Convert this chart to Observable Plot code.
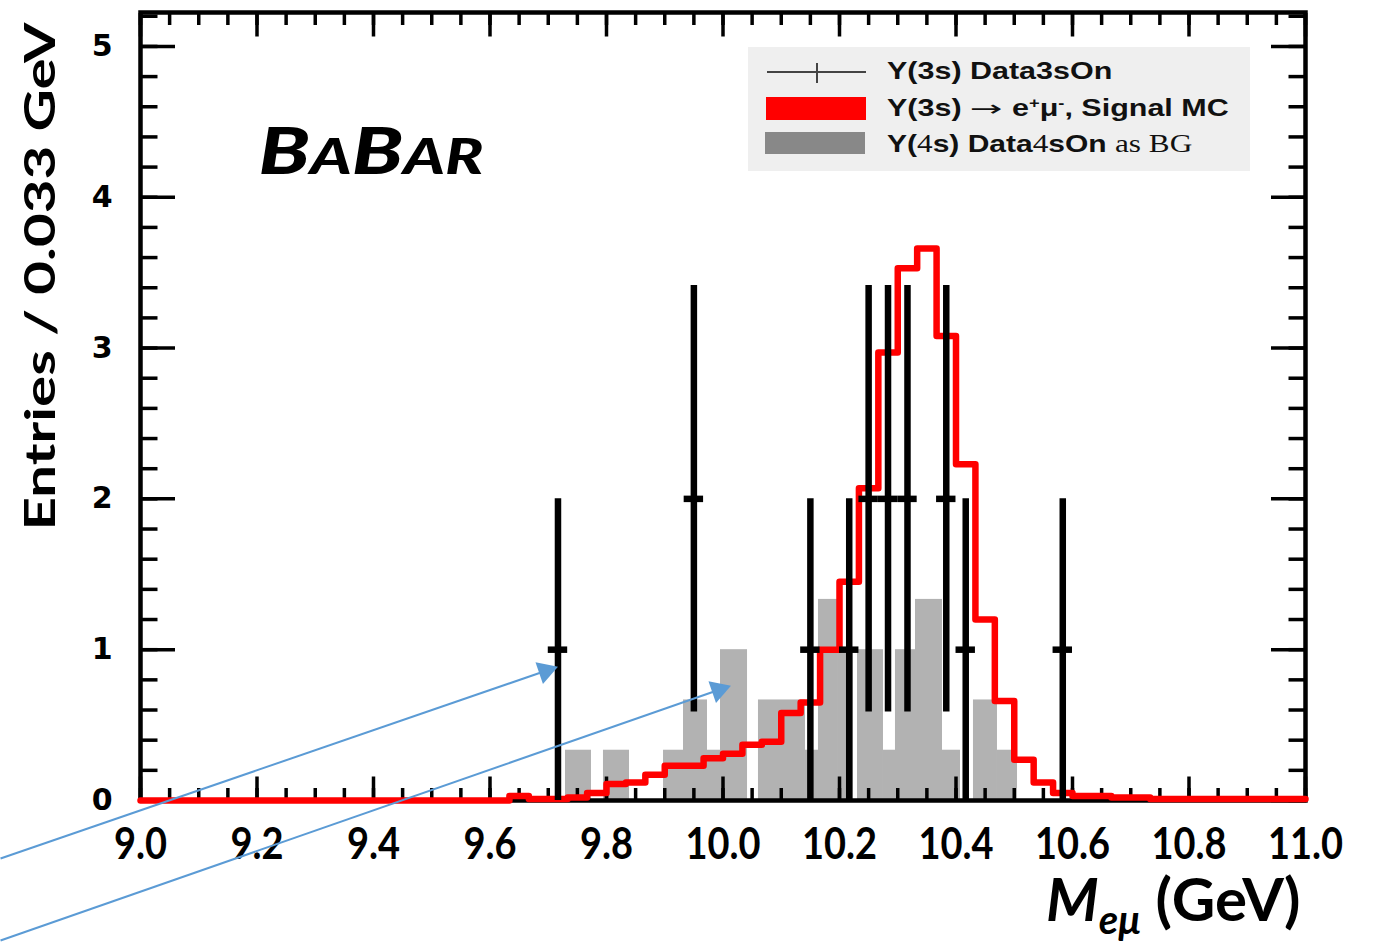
<!DOCTYPE html>
<html>
<head>
<meta charset="utf-8">
<script src="https://cdn.jsdelivr.net/npm/d3@7"></script>
<script src="https://cdn.jsdelivr.net/npm/@observablehq/plot@0.6"></script>
<style>
  html, body { margin: 0; padding: 0; background: #fff; }
  #wrap { position: relative; width: 1381px; height: 945px; overflow: hidden; background: #fff; }
  #wrap svg { position: absolute; left: 0; top: 0; }
  #legend { position: absolute; left: 748px; top: 47px; width: 502px; height: 124px; background: #efefef; }
  #legend .sym { position: absolute; }
  #legend .txt { position: absolute; left: 139px; white-space: nowrap; font-family: "Liberation Sans", Arial, sans-serif;
                 font-weight: bold; font-size: 24px; line-height: 24px; color: #111; transform-origin: 0 50%;
                 transform: translateY(-50%) scaleX(1.27); }
  #legend .serif { font-family: "Liberation Serif", "Times New Roman", serif; font-weight: normal; font-size: 25px; }
  #legend .arrow { font-family: "DejaVu Sans", sans-serif; font-weight: normal; font-size: 22px; display: inline-block; transform: scaleX(1.4); margin: 0 4px; }
  #legend sup { font-size: 60%; vertical-align: 0.55em; line-height: 0; }
</style>
</head>
<body>
<div id="wrap">
  <div id="legend">
    <div class="sym" style="left:19px; top:24px; width:99px; height:1.6px; background:#444;"></div>
    <div class="sym" style="left:68px; top:16px; width:2px; height:20px; background:#444;"></div>
    <div class="sym" style="left:18px; top:50px; width:100px; height:23px; background:#ff0000;"></div>
    <div class="sym" style="left:17px; top:85px; width:100px; height:22px; background:#888888;"></div>
    <div class="txt" style="top:24px;">Y(3s) Data3sOn</div>
    <div class="txt" style="top:61px;">Y(3s) <span class="arrow">&#8594;</span> e<sup>+</sup>&#956;<sup>-</sup>, Signal MC</div>
    <div class="txt" style="top:97px; transform: translateY(-50%) scaleX(1.25);">Y(<span class="serif">4</span>s) Data<span class="serif">4</span>sOn <span class="serif">as BG</span></div>
  </div>
</div>
<script>
// ---------------- data ----------------
// Signal MC histogram: 60 bins of 1/30 GeV from 9.0 to 11.0 (values per bin)
const histStart = 9.0;
const histBinWidth = 1 / 30;
const signalMC = [
  0, 0, 0, 0, 0, 0, 0, 0, 0, 0,
  0, 0, 0, 0, 0, 0, 0, 0, 0, 0.03,
  0.01, 0.01, 0.02, 0.05, 0.11, 0.12, 0.17, 0.23, 0.23, 0.28,
  0.31, 0.37, 0.39, 0.58, 0.65, 1.0, 1.45, 2.07, 2.97, 3.53,
  3.66, 3.08, 2.23, 1.2, 0.66, 0.27, 0.12, 0.05, 0.03, 0.03,
  0.02, 0.02, 0.01, 0.01, 0.01, 0.01, 0.01, 0.01, 0.01, 0.01
];

// Y(3s) data: bin centres (GeV), counts, errors
const dataMass = [9.7167, 9.95, 10.15, 10.2167, 10.25, 10.2833, 10.3167, 10.3833, 10.4167, 10.5833];
const dataCounts = [1, 2, 1, 1, 2, 2, 2, 2, 1, 1];
const dataErrors = [1, 1.414, 1, 1, 1.414, 1.414, 1.414, 1.414, 1, 1];

// Y(4s) background bars: low edge, high edge (GeV), entries
const bgLo  = [9.7296, 9.7948, 9.8979, 9.9322, 9.9734, 9.9957, 10.0609, 10.1416, 10.1639, 10.1966, 10.2309, 10.2755, 10.2961, 10.3305, 10.3768, 10.4300, 10.4712];
const bgHi  = [9.7742, 9.8395, 9.9322, 9.9734, 9.9957, 10.0421, 10.1416, 10.1639, 10.1966, 10.2240, 10.2755, 10.2961, 10.3305, 10.3768, 10.4077, 10.4712, 10.5056];
const bgVal = [1/3, 1/3, 1/3, 2/3, 1/3, 1, 2/3, 1/3, 4/3, 1, 1, 1/3, 1, 4/3, 1/3, 2/3, 1/3];

// annotation arrows (data units)
const arrowFromX = [8.7597, 8.7597];
const arrowFromY = [-0.385, -0.928];
const arrowToX = [9.7124, 10.0094];
const arrowToY = [0.882, 0.756];
const arrowAngle = [71, 70.8];

// ticks
const xMajorTicks = [9.0, 9.2, 9.4, 9.6, 9.8, 10.0, 10.2, 10.4, 10.6, 10.8, 11.0];
const yMajorTicks = [0, 1, 2, 3, 4, 5];
const xMinorTicks = d3.range(0, 41).map(i => 9 + i * 0.05);
const yMinorTicks = d3.range(0, 27).map(i => i * 0.2);

// ---------------- tables ----------------
const sig = d3.range(signalMC.length + 1).map(i => ({
  x: histStart + i * histBinWidth,
  y: signalMC[Math.min(i, signalMC.length - 1)]
}));
const dat = dataMass.map((m, i) => ({x: m, n: dataCounts[i], e: dataErrors[i]}));
const bg = bgLo.map((lo, i) => ({lo, hi: bgHi[i], v: bgVal[i]}));
const arrows = arrowFromX.map((x1, i) => ({x1, y1: arrowFromY[i], x2: arrowToX[i], y2: arrowToY[i], a: arrowAngle[i]}));

const tickAxis = (ticks, anchor, size, isX) => (isX ? Plot.axisX : Plot.axisY)(ticks, {
  anchor, tickSize: -size, strokeWidth: 3.5, tickFormat: () => "", label: null
});

const chart = Plot.plot({
  width: 1381,
  height: 945,
  marginLeft: 140,
  marginRight: 76,
  marginTop: 12,
  marginBottom: 145,
  x: {domain: [9, 11]},
  y: {domain: [0, 5.225]},
  style: {background: "transparent", overflow: "visible"},
  marks: [
    Plot.rect(bg, {x1: "lo", x2: "hi", y1: 0, y2: "v", fill: "#b2b2b2"}),
    Plot.frame({stroke: "black", strokeWidth: 4.5}),
    tickAxis(xMinorTicks, "bottom", 12, true),
    tickAxis(xMajorTicks, "bottom", 23.5, true),
    tickAxis(xMinorTicks, "top", 12, true),
    tickAxis(xMajorTicks, "top", 23.5, true),
    tickAxis(yMinorTicks, "left", 17.5, false),
    tickAxis(yMajorTicks, "left", 35, false),
    tickAxis(yMinorTicks, "right", 17.5, false),
    tickAxis(yMajorTicks, "right", 35, false),
    Plot.line(sig, {x: "x", y: "y", curve: "step-after", stroke: "#ff0000", strokeWidth: 6.5}),
    Plot.ruleX(dat, {x: "x", y1: d => d.n - d.e, y2: d => d.n + d.e, stroke: "black", strokeWidth: 6.5}),
    Plot.ruleY(dat, {y: "n", x1: d => d.x - histBinWidth / 2, x2: d => d.x + histBinWidth / 2, stroke: "black", strokeWidth: 6.5}),
    Plot.axisX(xMajorTicks, {anchor: "bottom", tickSize: 0, tickPadding: 27, tickFormat: d => d.toFixed(1),
      fontSize: 38, fontWeight: "bold", fontFamily: "Lato", fill: "black", label: null}),
    Plot.axisY(yMajorTicks, {anchor: "left", tickSize: 0, tickPadding: 28, tickFormat: d => String(d),
      fontSize: 30, fontWeight: "bold", fontFamily: "DejaVu Sans", fill: "black", label: null}),
    Plot.text(["Entries / 0.033 GeV"], {text: d => d, frameAnchor: "top-left", rotate: -90, textAnchor: "end",
      lineAnchor: "middle", dx: -99, dy: 10, fontSize: 42, fontWeight: "bold", fontFamily: "Lato", fill: "black", ariaLabel: () => "ytitle"}),
    Plot.text(["M"], {text: d => d, frameAnchor: "bottom-right", textAnchor: "end", lineAnchor: "middle",
      dx: -5, dy: 101, fontSize: 60, fontWeight: "bold", fontFamily: "Lato", fill: "black", ariaLabel: () => "xtitle"}),
    Plot.text(["BABAR"], {text: d => d, frameAnchor: "top-left", textAnchor: "start", lineAnchor: "middle",
      dx: 118, dy: 141, fontSize: 64, fontWeight: 900, fontStyle: "italic", fontFamily: "Lato", fill: "black", ariaLabel: () => "babar"}),
    Plot.link(arrows, {x1: "x1", y1: "y1", x2: "x2", y2: "y2", stroke: "#5b9bd5", strokeWidth: 2}),
    Plot.dot(arrows, {x: "x2", y: "y2", symbol: "triangle", r: 8.5, fill: "#5b9bd5", stroke: null, rotate: "a", dx: -10, dy: 3.5})
  ]
});

document.getElementById("wrap").prepend(chart);

// ---------- text styling ----------
function findText(label) {
  let el = chart.querySelector(`[aria-label="${label}"]`);
  if (el && el.tagName.toLowerCase() !== "text") el = el.querySelector("text");
  return el;
}
chart.querySelectorAll('g[aria-label="x-axis tick label"] text').forEach(t => {
  if (t.textContent.trim()) t.setAttribute("transform", (t.getAttribute("transform") || "") + " scale(1,1.15)");
});
const yt = findText("ytitle") || Array.from(chart.querySelectorAll("text")).find(t => t.textContent.startsWith("Entries"));
if (yt) { yt.setAttribute("textLength", "508"); yt.setAttribute("lengthAdjust", "spacingAndGlyphs"); }
const xt = findText("xtitle") || Array.from(chart.querySelectorAll("text")).find(t => t.textContent === "M");
if (xt) {
  xt.innerHTML = '<tspan font-style="italic">M</tspan><tspan font-style="italic" font-size="40" dy="13">e\u03bc</tspan><tspan dy="-13"> (GeV)</tspan>';
}
const bb = findText("babar") || Array.from(chart.querySelectorAll("text")).find(t => t.textContent === "BABAR");
if (bb) {
  bb.innerHTML = '<tspan>B</tspan><tspan font-size="49">A</tspan><tspan>B</tspan><tspan font-size="49">AR</tspan>';
  bb.setAttribute("textLength", "225");
  bb.setAttribute("lengthAdjust", "spacingAndGlyphs");
}
</script>
</body>
</html>
